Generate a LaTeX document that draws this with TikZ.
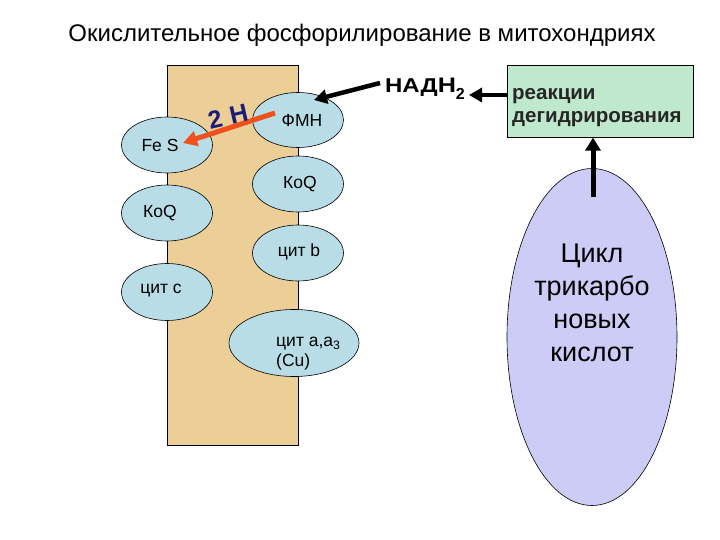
\documentclass[tikz,border=0pt]{standalone}
\usepackage{fontspec}
\setmainfont{Liberation Sans}
\usetikzlibrary{arrows.meta,shapes.geometric}
\definecolor{memb}{HTML}{ECCF96}
\definecolor{ell}{HTML}{B9DDE6}
\definecolor{boxg}{HTML}{BFE8CC}
\definecolor{lav}{HTML}{CCCCF6}
\definecolor{redar}{HTML}{F0501E}
\definecolor{navy}{HTML}{1C1C7A}
\begin{document}
\begin{tikzpicture}[x=1pt,y=-1pt,
  carrier/.style={ellipse,draw=black,line width=0.6pt,fill=ell,inner sep=0pt},
  ctext/.style={font=\fontsize{17.5}{20}\selectfont,inner sep=0pt},
  blackarrow/.style={line width=4.5pt,-{Triangle[length=13pt,width=14pt]}},
]
\useasboundingbox (0,0) rectangle (720,540);
\node[font=\fontsize{24}{28}\selectfont] (title) at (362,35) {Окислительное фосфорилирование в митохондриях};
% membrane
\draw[fill=memb,line width=0.6pt] (167,65) rectangle (298,445);
% carriers
\node[carrier,minimum width=91pt,minimum height=56pt] (fes) at (167,145) {};
\node[ctext] at (160,145) {Fe S};
\node[carrier,minimum width=91pt,minimum height=55pt] (fmn) at (298,120) {};
\node[ctext] at (302,120) {ФМН};
\node[carrier,minimum width=91pt,minimum height=56pt] (koq1) at (298,184) {};
\node[ctext] at (300,184) {КоQ};
\node[carrier,minimum width=91pt,minimum height=56pt] (koq2) at (167,213) {};
\node[ctext] at (160,213) {КоQ};
\node[carrier,minimum width=91pt,minimum height=56pt] (citb) at (298,253) {};
\node[ctext] at (299,252) {цит b};
\node[carrier,minimum width=91pt,minimum height=57pt] (citc) at (167,292) {};
\node[ctext] at (161,291) {цит c};
\node[carrier,minimum width=130pt,minimum height=67pt] (cita) at (294,343) {};
\node[anchor=west,align=left,font=\fontsize{17.5}{20}\selectfont,inner sep=0pt] at (276,354) {цит a,a\textsubscript{3}\\(Cu)};
% 2H arrow
\coordinate (hstart) at (275,113);
\coordinate (hend) at (183,143);
\draw[redar,line width=5pt,-{Triangle[length=14pt,width=15pt]}] (hstart) -- (hend);
\node[navy,rotate=13,font=\bfseries\fontsize{25}{27}\selectfont,inner sep=0pt] (twoh) at (228,116) {2\,\,H};
% NADH2
\node[inner sep=1pt] (nadh) at (425,89) {\scalebox{1.2}[1]{\bfseries\fontsize{20}{22}\selectfont НАД\fontsize{21}{22}\selectfont Н}\raisebox{-7pt}{\bfseries\fontsize{16}{16}\selectfont 2}};
\coordinate (nstart) at (380,83);
\coordinate (fmnin) at (314,100);
\draw[blackarrow] (nstart) -- (fmnin);
% box
\node[draw=black,line width=0.6pt,fill=boxg,minimum width=186pt,minimum height=72pt,anchor=north west] (box) at (507,65) {};
\node[anchor=west,align=left,font=\bfseries\fontsize{20.5}{23}\selectfont,text=black!85,inner sep=0pt] at (512,108) {реакции\\дегидрирования};
\coordinate (bstart) at (507,95);
\coordinate (bend) at (469,95);
\draw[line width=4pt,-{Triangle[length=13pt,width=14pt]}] (bstart) -- (bend);
% Krebs cycle
\node[ellipse,draw=black,line width=0.6pt,fill=lav,minimum width=170pt,minimum height=337pt,inner sep=0pt] (tca) at (592,337) {};
\node[align=center,font=\fontsize{27}{33}\selectfont] at (592,303) {Цикл\\трикарбо\\новых\\кислот};
\draw[line width=5pt,-{Triangle[length=13pt,width=15pt]}] (593,197) coordinate (tstart) -- (box.south -| tstart);
\end{tikzpicture}
\end{document}
